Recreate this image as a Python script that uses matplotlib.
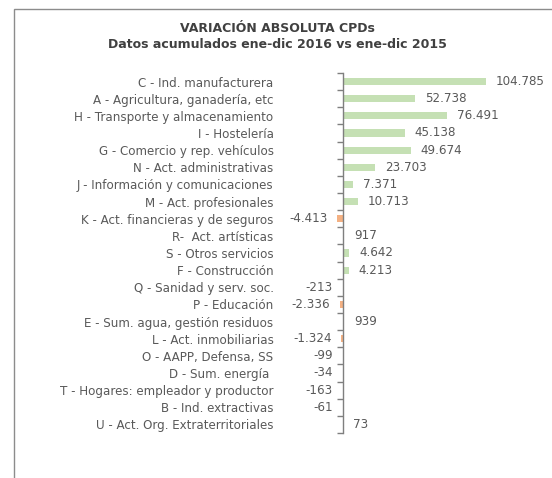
import matplotlib.pyplot as plt
import matplotlib.patches as patches
import numpy as np

# datos (orden de arriba a abajo)
sectores = [
    "C - Ind. manufacturera",
    "A - Agricultura, ganadería, etc",
    "H - Transporte y almacenamiento",
    "I - Hostelería",
    "G - Comercio y rep. vehículos",
    "N - Act. administrativas",
    "J - Información y comunicaciones",
    "M - Act. profesionales",
    "K - Act. financieras y de seguros",
    "R-  Act. artísticas",
    "S - Otros servicios",
    "F - Construcción",
    "Q - Sanidad y serv. soc.",
    "P - Educación",
    "E - Sum. agua, gestión residuos",
    "L - Act. inmobiliarias",
    "O - AAPP, Defensa, SS",
    "D - Sum. energía ",
    "T - Hogares: empleador y productor",
    "B - Ind. extractivas",
    "U - Act. Org. Extraterritoriales",
]
variacion = [104785, 52738, 76491, 45138, 49674, 23703, 7371, 10713, -4413,
             917, 4642, 4213, -213, -2336, 939, -1324, -99, -34, -163, -61, 73]

VERDE = '#C5E0B4'
NARANJA = '#F4B183'
GRIS = '#595959'
FUENTE = 'DejaVu Sans'
TAM = 8.6


def fmt_es(v):
    # separador de miles con punto
    return f"{v:,}".replace(",", ".")


W, H = 552, 478
fig = plt.figure(figsize=(W / 100, H / 100), dpi=100)

# marco del gráfico (solo se ven borde izquierdo y superior)
fig.patches.append(patches.Rectangle((14 / W, -0.1), 1.2, (H - 9) / H + 0.1,
                                     transform=fig.transFigure, fill=False,
                                     edgecolor='#8c8c8c', linewidth=1))

xmin, xmax = -20000, 120000
px_per_unit = 143 / 104785
x0_px = 343
left_px = x0_px + xmin * px_per_unit
right_px = x0_px + xmax * px_per_unit
ax_top, ax_bot = 73, 433
ax = fig.add_axes([left_px / W, (H - ax_bot) / H,
                   (right_px - left_px) / W, (ax_bot - ax_top) / H])

n = len(sectores)
y = np.arange(n)
colores = [VERDE if v >= 0 else NARANJA for v in variacion]
ax.barh(y, variacion, height=0.42, color=colores)

ax.set_xlim(xmin, xmax)
ax.set_ylim(n - 0.5, -0.5)

for s in ['top', 'right', 'bottom']:
    ax.spines[s].set_visible(False)
ax.spines['left'].set_position(('data', 0))
ax.spines['left'].set_color('#7f7f7f')
ax.spines['left'].set_linewidth(1)
ax.set_xticks([])

ax.set_yticks(y)
ax.set_yticklabels(sectores, fontsize=TAM, color=GRIS, family=FUENTE)
ax.tick_params(axis='y', which='major', length=0, pad=50)
ax.set_yticks(np.arange(-0.5, n, 1), minor=True)
ax.tick_params(axis='y', which='minor', direction='out', left=True, right=False,
               length=4, color='#7f7f7f', width=1)

for yi, v in zip(y, variacion):
    if v >= 0:
        ax.annotate(fmt_es(v), (v, yi), xytext=(7, 0), textcoords='offset points',
                    ha='left', va='center', fontsize=TAM, color=GRIS, family=FUENTE)
    else:
        ax.annotate(fmt_es(v), (v, yi), xytext=(-7, 0), textcoords='offset points',
                    ha='right', va='center', fontsize=TAM, color=GRIS, family=FUENTE)

fig.text(277 / W, 1 - 29 / H, "VARIACIÓN ABSOLUTA CPDs", ha='center', va='center',
         fontsize=9, fontweight='bold', color='#404040', family=FUENTE)
fig.text(277 / W, 1 - 45 / H, "Datos acumulados ene-dic 2016 vs ene-dic 2015",
         ha='center', va='center', fontsize=9, fontweight='bold',
         color='#404040', family=FUENTE)

fig.savefig('out.png', dpi=100)
